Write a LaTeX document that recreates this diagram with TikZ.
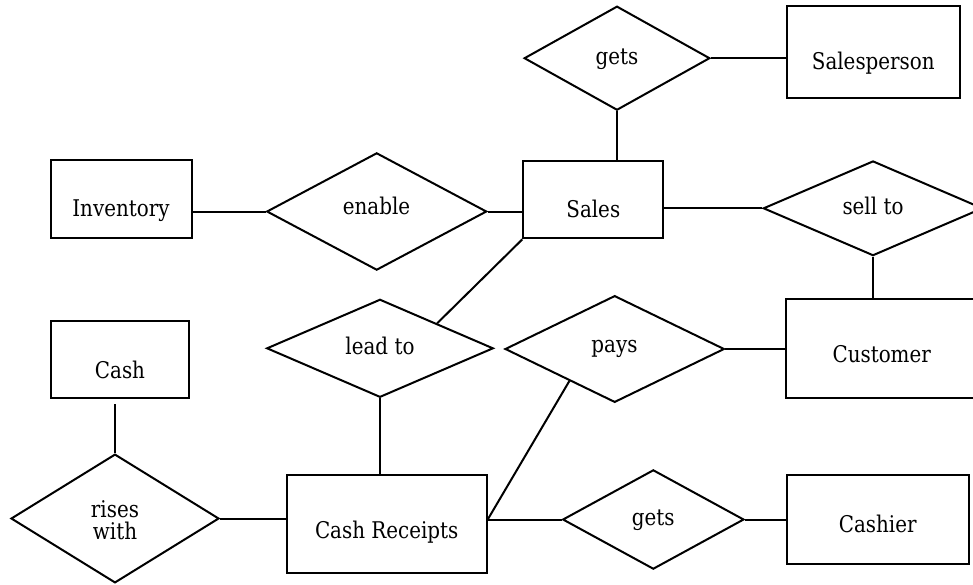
\documentclass[tikz,border=0pt]{standalone}
\usepackage{fontspec}
\setmainfont[FakeStretch=0.865]{DejaVu Serif}
\usetikzlibrary{shapes.geometric,calc}
\begin{document}
\begin{tikzpicture}[x=1pt,y=-1pt,
  ent/.style={draw, line width=2pt, rectangle, inner sep=0pt},
  rel/.style={draw, line width=2pt, diamond, inner sep=0pt, shape aspect=2},
  lbl/.style={anchor=base, inner sep=0pt, font=\fontsize{23}{22}\selectfont},
  conn/.style={line width=2pt}]
\useasboundingbox (0,0) rectangle (973,584);
% entities
\node[ent, minimum width=173.3pt, minimum height=92.3pt] (salesperson) at (873.3,52.2) {};
\node[ent, minimum width=141pt, minimum height=78.3pt] (inventory) at (121.2,199.2) {};
\node[ent, minimum width=140pt, minimum height=77.3pt] (sales) at (593.3,199.7) {};
\node[ent, minimum width=192pt, minimum height=98.4pt] (customer) at (881.7,348.5) {};
\node[ent, minimum width=138.6pt, minimum height=77pt] (cash) at (120,359.5) {};
\node[ent, minimum width=199.4pt, minimum height=98.3pt] (crec) at (387,524.2) {};
\node[ent, minimum width=182.3pt, minimum height=89.3pt] (cashier) at (877.8,519.7) {};
% relationships
\node[rel, minimum width=185.7pt, minimum height=104pt] (gets1) at (617,58.2) {};
\node[rel, minimum width=220pt, minimum height=117.3pt] (enable) at (376.7,211.5) {};
\node[rel, minimum width=219.4pt, minimum height=94.7pt] (sellto) at (873,208.3) {};
\node[rel, minimum width=219.3pt, minimum height=106.7pt] (pays) at (614.7,349) {};
\node[rel, minimum width=226.6pt, minimum height=98pt] (leadto) at (380,348.3) {};
\node[rel, minimum width=181.3pt, minimum height=99.3pt] (gets2) at (653.3,519.5) {};
\node[rel, minimum width=208pt, minimum height=128.7pt] (riseswith) at (115,518.5) {};
% labels
\node[lbl] (t-salesperson) at (873.3,69.3) {Salesperson};
\node[lbl] (t-inventory) at (121,216.7) {Inventory};
\node[lbl] (t-sales) at (593.3,217.3) {Sales};
\node[lbl] (t-customer) at (881.7,362.3) {Customer};
\node[lbl] (t-cash) at (120,378.3) {Cash};
\node[lbl] (t-crec) at (386.7,538.3) {Cash Receipts};
\node[lbl] (t-cashier) at (877.7,532.3) {Cashier};
\node[lbl] (t-gets1) at (617,64) {gets};
\node[lbl] (t-enable) at (376.5,214) {enable};
\node[lbl] (t-sellto) at (873,214) {sell to};
\node[lbl] (t-pays) at (614.5,352.7) {pays};
\node[lbl] (t-leadto) at (380,354) {lead to};
\node[lbl] (t-gets2) at (653.3,525) {gets};
\node[lbl, anchor=center, align=center] (t-riseswith) at (115,520) {rises\\with};
% connectors
\draw[conn] (gets1.south) -- (gets1.south |- sales.north);
\draw[conn] (gets1.east) -- (gets1.east -| salesperson.west);
\draw[conn] (enable.west) -- (enable.west -| inventory.east);
\draw[conn] (enable.east) -- (enable.east -| sales.west);
\draw[conn] (sellto.west) -- (sellto.west -| sales.east);
\draw[conn] (sellto.south) -- (sellto.south |- customer.north);
\draw[conn] (pays.east) -- (pays.east -| customer.west);
\coordinate (crecright) at (crec.east |- gets2.west);
\draw[conn] (crecright) -- (gets2.west);
\draw[conn] ($(pays.west)!0.59!(pays.south)$) -- (crecright);
\draw[conn] (gets2.east) -- (gets2.east -| cashier.west);
\draw[conn] (leadto.south) -- (leadto.south |- crec.north);
\draw[conn] (sales.south west) -- ($(leadto.north)!0.5!(leadto.east)$);
\draw[conn] (riseswith.north) -- ([yshift=-4.7pt]riseswith.north |- cash.south);
\draw[conn] (riseswith.east) -- (riseswith.east -| crec.west);
\end{tikzpicture}
\end{document}
